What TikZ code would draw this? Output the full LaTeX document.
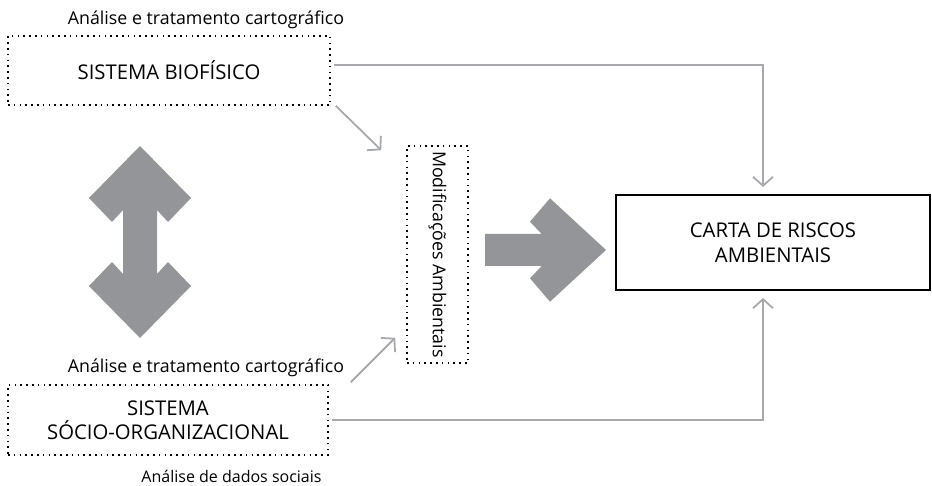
\documentclass[tikz,border=0pt]{standalone}
\usepackage{fontspec}
\setmainfont{Open Sans}
\usetikzlibrary{arrows.meta}
\definecolor{bigarrow}{HTML}{939598}
\definecolor{conncol}{HTML}{A7A9AC}
\tikzset{
  dotbox/.style={draw=black, line width=1.6pt, dash pattern=on 1.6pt off 4.2pt, rectangle, inner sep=0pt},
  mainbox/.style={draw=black, line width=2pt, rectangle, inner sep=0pt},
  bigtext/.style={font=\fontsize{20.3}{24.5}\selectfont, align=center, inner sep=0pt},
  smalltext/.style={font=\fontsize{17.8}{20}\selectfont, inner sep=0pt},
  smallertext/.style={font=\fontsize{16}{20}\selectfont, inner sep=0pt},
  conn/.style={draw=conncol, line width=1.8pt, -{Straight Barb[length=9pt,width=20pt,line width=1.8pt]}},
  fatarrow/.style={fill=bigarrow, draw=none}
}
\begin{document}
\begin{tikzpicture}[x=1pt,y=-1pt]
\useasboundingbox (0,0) rectangle (932,486);
% boxes
\node[dotbox, minimum width=322pt, minimum height=69pt] (bio) at (169,70.5) {};
\node[bigtext] (biot) at (bio.center) {SISTEMA BIOFÍSICO};
\node[dotbox, minimum width=320pt, minimum height=70pt] (socio) at (168,420) {};
\node[bigtext] (sociot) at (socio.center) {SISTEMA\\SÓCIO-ORGANIZACIONAL};
\node[dotbox, minimum width=61pt, minimum height=217pt] (mod) at (437.5,254.5) {};
\node[smalltext, rotate=-90] (modt) at (mod.center) {Modificações Ambientais};
\node[mainbox, minimum width=314pt, minimum height=95pt] (carta) at (773,242.5) {};
\node[bigtext] (cartat) at (carta.center) {CARTA DE RISCOS\\AMBIENTAIS};
% labels
\node[smalltext, anchor=base] (l1) at (206,25) {Análise e tratamento cartográfico};
\node[smalltext, anchor=base] (l2) at (206,372) {Análise e tratamento cartográfico};
\node[smallertext, anchor=base] (l3) at (231.5,482) {Análise de dados sociais};
% big arrows
\fill[fatarrow] (485,234) -- (541.7,234) -- (530,221.7) -- (550,198.3) -- (606,250)
  -- (550,301.7) -- (530,278.3) -- (541.7,266) -- (485,266) -- cycle;
\fill[fatarrow] (140,146) -- (191,198) -- (168,222) -- (157,210) -- (157,274)
  -- (168,262) -- (191,286) -- (140,338) -- (89,286) -- (112,262) -- (123,274)
  -- (123,210) -- (112,222) -- (89,198) -- cycle;
% connectors
\draw[conn, shorten >=7pt] ([yshift=5.5pt,xshift=3pt]bio.east) -| ([xshift=-10pt]carta.north);
\draw[conn, shorten >=7pt] ([xshift=3pt]socio.east) -| ([xshift=-10pt]carta.south);
\draw[conn] ([shift={(5,0)}]bio.south east) -- ([shift={(-25,5)}]mod.north west);
\draw[conn] ([shift={(22,-2)}]socio.north east) -- ([shift={(-11,-26)}]mod.south west);
\end{tikzpicture}
\end{document}
